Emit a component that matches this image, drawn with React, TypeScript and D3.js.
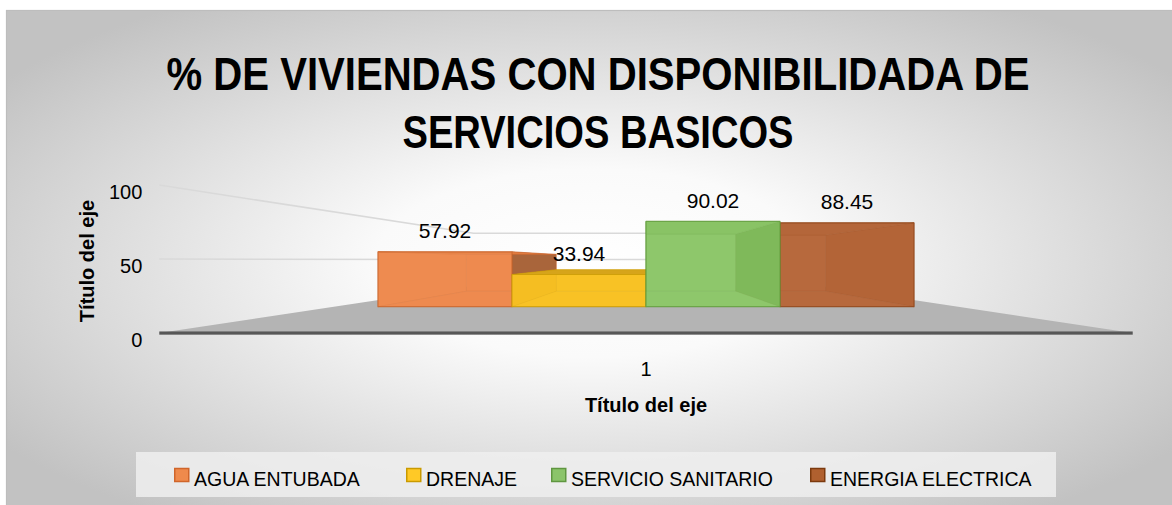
import React from 'react';
import * as d3 from 'd3';

// ---------- data ----------
const categories = ['1'];
const series = ['AGUA ENTUBADA', 'DRENAJE', 'SERVICIO SANITARIO', 'ENERGIA ELECTRICA'];
const values = [57.92, 33.94, 90.02, 88.45];
const yTicks = [0, 50, 100];
const titleLines = ['% DE VIVIENDAS CON DISPONIBILIDADA DE', 'SERVICIOS BASICOS'];
const axisTitle = 'Título del eje';

// ---------- styles ----------
const frontColors = ['#ef8c51', '#f9c52a', '#8fc86d', '#b96b3f'];
const leftColors = ['#ee8a4e', '#f0b517', '#8cc66a', '#b5673b'];
const rightColors = ['#a9653b', '#e0a816', '#68a23f', '#aa5a2c'];
const topColors = ['#e07c40', '#d6a41a', '#7fbb5a', '#ad6032'];
const backColors = ['#ed884c', '#f7be1e', '#8cc66a', '#b4663a'];
const edgeColors = ['#c8622a', '#c99a05', '#5f9a3a', '#8e4518'];
const legendFill = ['#ef8a4c', '#ffc926', '#8bc46a', '#b0602f'];
const legendStroke = ['#d0652a', '#c99a00', '#5f9640', '#7c3a0e'];
const legendX = [174, 406, 551, 810];

const W = 1172;
const H = 505;
const VX = 646;
const VY = 259.8;
const K_FLOOR_FRONT = 1.56;
const K_WALL = 0.553;
const K_BAR_FRONT = 1;
const K_BAR_BACK = 0.67;
const FONT = "'Liberation Sans', Arial, sans-serif";

const x0 = d3.scaleBand<string>().domain(categories).range([-312, 312]).paddingInner(0).paddingOuter(0.082);
const x1 = d3.scaleBand<string>().domain(series).range([0, x0.bandwidth()]).paddingInner(0);
const y = d3.scaleLinear().domain([0, 100]).range([46.9, -47.9]);

const proj = (X: number, v: number, k: number): [number, number] => [VX + X * k, VY + y(v) * k];
const pts = (arr: [number, number][]) => arr.map((p) => p.join(',')).join(' ');

function Bar({ i }: { i: number }) {
  const s = series[i];
  const X0 = (x0(categories[0]) as number) + (x1(s) as number);
  const X1 = X0 + x1.bandwidth();
  const v = values[i];
  const f = K_BAR_FRONT;
  const b = K_BAR_BACK;
  const fbl = proj(X0, 0, f), fbr = proj(X1, 0, f), ftl = proj(X0, v, f), ftr = proj(X1, v, f);
  const bbl = proj(X0, 0, b), bbr = proj(X1, 0, b), btl = proj(X0, v, b), btr = proj(X1, v, b);
  const ec = edgeColors[i];
  return (
    <g strokeLinejoin="round">
      <polygon points={pts([bbl, bbr, btr, btl])} fill={backColors[i]} stroke={ec} strokeOpacity={0.3} strokeWidth={1} />
      <polygon points={pts([fbl, bbl, btl, ftl])} fill={leftColors[i]} stroke={ec} strokeOpacity={0.3} strokeWidth={1} />
      <polygon points={pts([fbr, bbr, btr, ftr])} fill={rightColors[i]} stroke={ec} strokeOpacity={0.35} strokeWidth={1} />
      <polygon points={pts([fbl, fbr, bbr, bbl])} fill={backColors[i]} stroke={ec} strokeOpacity={0.3} strokeWidth={1} />
      <polygon points={pts([ftl, ftr, btr, btl])} fill={topColors[i]} stroke={ec} strokeOpacity={0.45} strokeWidth={1} />
      <polygon points={pts([fbl, fbr, ftr, ftl])} fill={frontColors[i]} fillOpacity={0.6} stroke={ec} strokeOpacity={0.7} strokeWidth={1.2} />
    </g>
  );
}

export default function App() {
  const drawOrder = [0, 3, 1, 2];
  const fl = proj(-312, 0, K_FLOOR_FRONT);
  const fr = proj(312, 0, K_FLOOR_FRONT);
  const bl = proj(-312, 0, K_WALL);
  const br = proj(312, 0, K_WALL);
  const catX = VX + (x0(categories[0]) as number) + x0.bandwidth() / 2;

  return (
    <svg width={W} height={H} style={{ position: 'absolute', left: 0, top: 0 }} fontFamily={FONT}>
      <defs>
        <radialGradient id="bg" cx="0.5" cy="0.5" r="0.62" fx="0.5" fy="0.5">
          <stop offset="0" stopColor="#ffffff" />
          <stop offset="0.3" stopColor="#fafafa" />
          <stop offset="1" stopColor="#c2c2c2" />
        </radialGradient>
      </defs>
      <rect x={0} y={0} width={W} height={H} fill="#ffffff" />
      <rect x={6.5} y={10.5} width={W} height={H} fill="url(#bg)" stroke="#bdbdbd" strokeWidth={1.2} />

      {/* title */}
      {titleLines.map((t, i) => (
        <text key={t} x={598} y={90 + i * 58} textAnchor="middle" fontSize={46} fontWeight="bold" fill="#000"
          textLength={i === 0 ? 863 : 391} lengthAdjust="spacingAndGlyphs">{t}</text>
      ))}

      {/* floor */}
      <polygon points={pts([fl, fr, br, bl])} fill="#b4b4b4" />
      <rect x={fl[0]} y={fl[1] - 1.5} width={fr[0] - fl[0]} height={3.2} fill="#575757" />

      {/* gridlines on left and back walls */}
      {yTicks.filter((t) => t > 0).map((t) => {
        const a = proj(-312, t, K_FLOOR_FRONT);
        const m = proj(-312, t, K_WALL);
        const e = proj(312, t, K_WALL);
        return <polyline key={t} points={pts([a, m, e])} fill="none" stroke="#d9d9d9" strokeWidth={1.5} />;
      })}

      {/* y tick labels */}
      {yTicks.map((t) => {
        const p = proj(-312, t, K_FLOOR_FRONT);
        return (
          <text key={t} x={p[0] - 17} y={p[1] + 14} textAnchor="end" fontSize={20} fill="#000">{t}</text>
        );
      })}

      {/* bars */}
      {drawOrder.map((i) => <Bar key={i} i={i} />)}

      {/* data labels */}
      {series.map((s, i) => {
        const X = (x0(categories[0]) as number) + (x1(s) as number) + x1.bandwidth() / 2;
        const p = proj(X, values[i], K_BAR_FRONT);
        return (
          <text key={s} x={p[0]} y={p[1] - 13.5} textAnchor="middle" fontSize={21} fill="#000">{values[i].toFixed(2)}</text>
        );
      })}

      {/* category label and axis titles */}
      <text x={catX} y={376} textAnchor="middle" fontSize={20} fill="#000">{categories[0]}</text>
      <text x={catX} y={412} textAnchor="middle" fontSize={20} fontWeight="bold" fill="#000">{axisTitle}</text>
      <text transform="translate(94,261) rotate(-90)" textAnchor="middle" fontSize={20} fontWeight="bold" fill="#000">{axisTitle}</text>

      {/* legend */}
      <rect x={136} y={452} width={920} height={45} fill="#eeeeee" fillOpacity={0.85} />
      {series.map((s, i) => (
        <g key={s}>
          <rect x={legendX[i] + 0.75} y={468.5} width={14} height={13} fill={legendFill[i]} stroke={legendStroke[i]} strokeWidth={1.5} />
          <text x={legendX[i] + 20} y={486} fontSize={19.5} fill="#000">{s}</text>
        </g>
      ))}
    </svg>
  );
}
